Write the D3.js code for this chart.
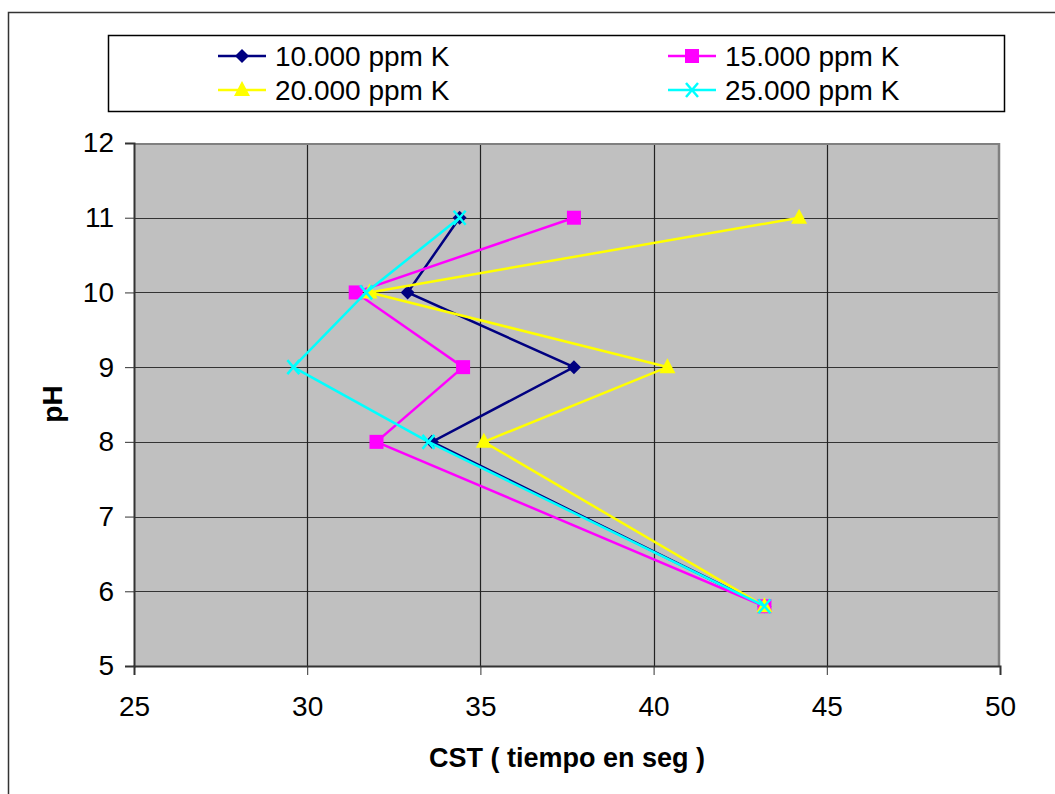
<!DOCTYPE html>
<html><head><meta charset="utf-8">
<script src="https://cdn.jsdelivr.net/npm/d3@7"></script>
<style>body{margin:0;background:#fff}svg{display:block;font-family:"Liberation Sans",Arial,sans-serif}</style>
</head><body>
<script>
const phLevels = [5.8, 8, 9, 10, 11];
const seriesNames = ["10.000 ppm K", "15.000 ppm K", "20.000 ppm K", "25.000 ppm K"];
const cst10 = [43.2, 33.6, 37.7, 32.9, 34.4];
const cst15 = [43.2, 32.0, 34.5, 31.4, 37.7];
const cst20 = [43.2, 35.1, 40.4, 31.8, 44.2];
const cst25 = [43.2, 33.5, 29.6, 31.7, 34.4];
const xTicks = [25, 30, 35, 40, 45, 50];
const yTicks = [5, 6, 7, 8, 9, 10, 11, 12];
const colors = ["#000080", "#FF00FF", "#FFFF00", "#00FFFF"];
const symbols = ["diamond", "square", "triangle", "x"];
const allSeries = [cst10, cst15, cst20, cst25];

const W = 1055, H = 794;
const svg = d3.select("body").append("svg").attr("width", W).attr("height", H);
svg.append("rect").attr("x", 8.5).attr("y", 12.5).attr("width", 1060).attr("height", 800)
  .attr("fill", "#fff").attr("stroke", "#333").attr("stroke-width", 1.5);

const L = 134, R = 1000, T = 143, B = 666;
const x = d3.scaleLinear().domain([25, 50]).range([L, R]);
const y = d3.scaleLinear().domain([5, 12]).range([B, T]);

svg.append("rect").attr("x", L).attr("y", T).attr("width", R - L).attr("height", B - T)
  .attr("fill", "#C0C0C0");
// grid
svg.append("g").selectAll("line").data(yTicks.filter(d => d > 5)).join("line")
  .attr("x1", L).attr("x2", R).attr("y1", d => Math.round(y(d)) + 0.5).attr("y2", d => Math.round(y(d)) + 0.5)
  .attr("stroke", "#333").attr("stroke-width", 1.2);
svg.append("g").selectAll("line").data(xTicks.filter(d => d > 25 && d < 50)).join("line")
  .attr("y1", T).attr("y2", B).attr("x1", d => Math.round(x(d)) + 0.5).attr("x2", d => Math.round(x(d)) + 0.5)
  .attr("stroke", "#222").attr("stroke-width", 1.2);
// plot border
svg.append("line").attr("x1", R - 1).attr("x2", R - 1).attr("y1", T).attr("y2", B).attr("stroke", "#808080").attr("stroke-width", 2.5);
svg.append("line").attr("x1", L).attr("x2", R).attr("y1", T + 1).attr("y2", T + 1).attr("stroke", "#808080").attr("stroke-width", 2);

// axes
const fmt = d3.format("d");
const xAxis = d3.axisBottom(x).tickValues(xTicks).tickFormat(fmt).tickSize(9).tickPadding(21);
const gx = svg.append("g").attr("transform", `translate(0,${B})`).call(xAxis);
gx.select(".domain").attr("stroke", "#333").attr("stroke-width", 2);
gx.selectAll(".tick line").attr("stroke", "#333");
gx.selectAll("text").attr("font-size", 28).attr("fill", "#000").attr("font-family", "Liberation Sans, Arial");
const yAxis = d3.axisLeft(y).tickValues(yTicks).tickFormat(fmt).tickSize(9).tickPadding(11);
const gy = svg.append("g").attr("transform", `translate(${L},0)`).call(yAxis);
gy.select(".domain").attr("stroke", "#333").attr("stroke-width", 2);
gy.selectAll(".tick line").attr("stroke", "#333");
gy.selectAll("text").attr("font-size", 28).attr("fill", "#000").attr("font-family", "Liberation Sans, Arial");

svg.append("text").attr("x", 567).attr("y", 767).attr("text-anchor", "middle")
  .attr("font-size", 27).attr("font-weight", "bold").text("CST ( tiempo en seg )");
svg.append("text").attr("transform", `translate(62,404) rotate(-90)`).attr("text-anchor", "middle")
  .attr("font-size", 28).attr("font-weight", "bold").text("pH");

function drawMarker(g, type, cx, cy, color) {
  if (type === "diamond") {
    g.append("path").attr("d", `M${cx},${cy - 7}L${cx + 7},${cy}L${cx},${cy + 7}L${cx - 7},${cy}Z`).attr("fill", color);
  } else if (type === "square") {
    g.append("rect").attr("x", cx - 7).attr("y", cy - 7).attr("width", 14).attr("height", 14).attr("fill", color);
  } else if (type === "triangle") {
    g.append("path").attr("d", `M${cx},${cy - 9}L${cx + 8},${cy + 6}L${cx - 8},${cy + 6}Z`).attr("fill", color);
  } else {
    g.append("path").attr("d", `M${cx - 6},${cy - 7}L${cx + 6},${cy + 7}M${cx + 6},${cy - 7}L${cx - 6},${cy + 7}`)
      .attr("stroke", color).attr("stroke-width", 2.5).attr("fill", "none");
  }
}

const line = d3.line().x(d => x(d[0])).y(d => y(d[1]));
allSeries.forEach((vals, i) => {
  const pts = vals.map((v, j) => [v, phLevels[j]]);
  const g = svg.append("g");
  g.append("path").attr("d", line(pts)).attr("fill", "none").attr("stroke", colors[i]).attr("stroke-width", 2.5);
  pts.forEach(p => drawMarker(g, symbols[i], x(p[0]), y(p[1]), colors[i]));
});

// legend
svg.append("rect").attr("x", 108.5).attr("y", 35.5).attr("width", 896).attr("height", 76)
  .attr("fill", "#fff").attr("stroke", "#000").attr("stroke-width", 1.5);
const legPos = [[218, 56], [668, 56], [218, 90], [668, 90]];
seriesNames.forEach((name, i) => {
  const [lx, ly] = legPos[i];
  const g = svg.append("g");
  g.append("line").attr("x1", lx).attr("x2", lx + 48).attr("y1", ly).attr("y2", ly).attr("stroke", colors[i]).attr("stroke-width", 2.5);
  drawMarker(g, symbols[i], lx + 24, ly, colors[i]);
  g.append("text").attr("x", lx + 57).attr("y", ly + 10).attr("font-size", 28).text(name);
});
</script>
</body></html>
